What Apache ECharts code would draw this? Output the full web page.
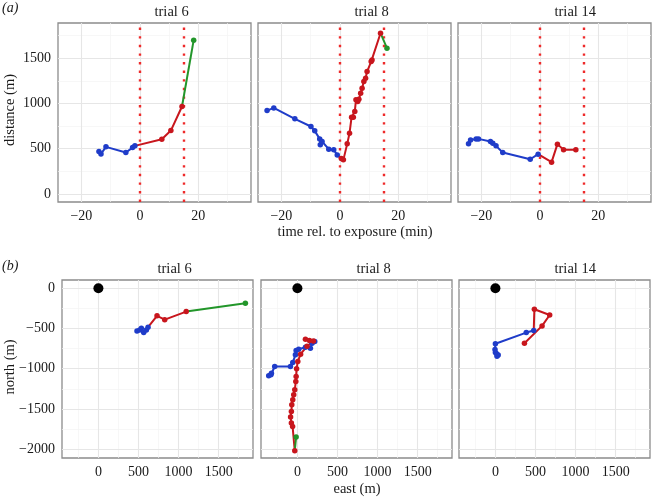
<!DOCTYPE html>
<html>
<head>
<meta charset="utf-8">
<script src="https://cdn.jsdelivr.net/npm/echarts@6/dist/echarts.min.js"></script>
<style>html,body{margin:0;padding:0;background:#fff}#c{width:652px;height:497px}</style>
</head>
<body>
<div id="c"></div>
<script>
// ---------- DATA ----------
const trials = ['trial 6', 'trial 8', 'trial 14'];
// panel (a): [time rel. to exposure (min), distance (m)]
const a6_pre  = [[-14,468],[-13.3,442],[-11.6,520],[-4.8,457],[-2.5,512],[-1.7,531]];
const a6_exp  = [[-1.7,531],[7.5,605],[10.6,700],[14.4,966]];
const a6_post = [[14.4,966],[18.4,1700]];
const a8_pre  = [[-24.9,921],[-22.6,951],[-15.4,830],[-9.9,745],[-8.6,697],[-6.9,608],[-6.7,542],[-6.1,579],[-3.8,494],[-2.1,487],[-0.9,431]];
const a8_exp  = [[-0.9,431],[0.5,390],[1.2,376],[2.5,553],[3.3,671],[4,848],[4.6,848],[5.1,910],[5.5,1040],[6.1,1021],[6.5,1047],[7.1,1114],[7.6,1169],[8.2,1242],[8.8,1279],[9.3,1353],[10.7,1463],[11,1482],[13.9,1777]];
const a8_post = [[13.9,1777],[16.1,1611]];
const a14_pre = [[-24.4,553],[-23.7,597],[-21.8,608],[-21,608],[-16.9,579],[-16.1,561],[-15,531],[-12.7,457],[-3.3,383],[-0.6,439]];
const a14_exp = [[-0.6,439],[4,351],[6,550],[8.1,487],[12.3,487]];
const a14_post = [];
const exposureBounds = [0, 15];
// panel (b): [east (m), north (m)]
const b6_pre  = [[481,-530],[515,-518],[536,-497],[565,-551],[598,-518],[619,-484]];
const b6_exp  = [[619,-484],[731,-342],[827,-390],[1095,-290]];
const b6_post = [[1095,-290],[1833,-187]];
const b8_pre  = [[-358,-1089],[-330,-1075],[-324,-1056],[-283,-973],[-87,-973],[-58,-924],[-25,-828],[-16,-775],[16,-758],[100,-733],[162,-745],[183,-683],[216,-663]];
const b8_exp  = [[216,-663],[100,-634],[150,-651],[200,-655],[120,-720],[40,-820],[5,-910],[-10,-1000],[-16,-1097],[-20,-1160],[-33,-1263],[-46,-1325],[-58,-1387],[-70,-1450],[-75,-1532],[-85,-1600],[-75,-1677],[-60,-1718],[-33,-2021]];
const b8_post = [[-33,-2021],[-16,-1851]];
const b14_pre = [[20,-845],[35,-830],[15,-815],[0,-800],[-5,-760],[0,-690],[385,-551],[478,-526]];
const b14_exp = [[478,-526],[486,-261],[677,-332],[582,-468],[362,-683]];
const b14_post = [];
const sourcePoint = [[0,0]];
// ticks
const tTicks = [-20, 0, 20], tMinor = [-10, 10, 30];
const dTicks = [0, 500, 1000, 1500], dMinor = [250, 750, 1250, 1750];
const eTicks = [0, 500, 1000, 1500], eMinor = [-250, 250, 750, 1250, 1750];
const nTicks = [-2000, -1500, -1000, -500, 0], nMinor = [-1750, -1250, -750, -250];
const tLim = [-28, 38], dLim = [-90, 1890], eLim = [-454, 1928], nLim = [-2111, 103];

// ---------- STYLE ----------
const FONT = 'Liberation Serif';
const C_PRE = '#1f3cc9', C_EXP = '#c8161d', C_POST = '#22962a', C_DOT = '#ee2a2a';
const topLefts = [58, 258, 458], botLefts = [62, 261, 459];

const grids = [], xAxes = [], yAxes = [], series = [], graphics = [];
const fmt = v => String(v).replace('-', '\u2212');

function addPanel(idx, left, top, w, h, xLim, yLim, xT, xM, yT, yM, showY) {
  grids.push({left, top, width: w, height: h, show: true, backgroundColor: '#fff', borderColor: '#8c8c8c', borderWidth: 1.3, containLabel: false});
  xAxes.push({type: 'value', gridIndex: idx, min: xLim[0], max: xLim[1],
    axisLine: {show: false}, splitLine: {show: false},
    axisTick: {show: true, length: 3, customValues: xT, lineStyle: {color: '#444', width: 1}},
    axisLabel: {show: true, customValues: xT, margin: 7, formatter: fmt, fontFamily: FONT, fontSize: 14, color: '#1a1a1a'}});
  yAxes.push({type: 'value', gridIndex: idx, min: yLim[0], max: yLim[1],
    axisLine: {show: false}, splitLine: {show: false},
    axisTick: {show: showY, length: 3, customValues: yT, lineStyle: {color: '#444', width: 1}},
    axisLabel: {show: showY, customValues: yT, margin: 7, formatter: fmt, fontFamily: FONT, fontSize: 14, color: '#1a1a1a'}});
  const ml = [];
  xM.forEach(v => ml.push({xAxis: v, lineStyle: {color: '#f3f3f3', width: 0.7}}));
  yM.forEach(v => ml.push({yAxis: v, lineStyle: {color: '#f3f3f3', width: 0.7}}));
  xT.forEach(v => ml.push({xAxis: v}));
  yT.forEach(v => ml.push({yAxis: v}));
  series.push({type: 'line', xAxisIndex: idx, yAxisIndex: idx, data: [], silent: true, z: 1,
    markLine: {silent: true, symbol: ['none', 'none'], animation: false, z: 1, label: {show: false},
      lineStyle: {color: '#e6e6e6', width: 1.1, type: 'solid'}, data: ml}});
}

function addPath(idx, data, color, skipFirst) {
  if (!data.length) return;
  series.push({type: 'line', xAxisIndex: idx, yAxisIndex: idx, z: 5, animation: false,
    data: data.map((p, i) => (skipFirst && i === 0) ? {value: p, symbol: 'none'} : {value: p}),
    symbol: 'circle', symbolSize: 5.5, showSymbol: true,
    lineStyle: {color, width: 2}, itemStyle: {color, opacity: 1}});
}

const aData = [[a6_pre, a6_exp, a6_post], [a8_pre, a8_exp, a8_post], [a14_pre, a14_exp, a14_post]];
const bData = [[b6_pre, b6_exp, b6_post], [b8_pre, b8_exp, b8_post], [b14_pre, b14_exp, b14_post]];

for (let i = 0; i < 3; i++) {
  addPanel(i, topLefts[i], 23, 193, 179, tLim, dLim, tTicks, tMinor, dTicks, dMinor, i === 0);
  series.push({type: 'line', xAxisIndex: i, yAxisIndex: i, data: [], silent: true, z: 3,
    markLine: {silent: true, symbol: ['none', 'none'], animation: false, z: 3, label: {show: false},
      lineStyle: {color: C_DOT, width: 2.4, type: [2.4, 6.2], cap: 'butt'},
      data: exposureBounds.map(v => ({xAxis: v}))}});
  addPath(i, aData[i][0], C_PRE, false);
  addPath(i, aData[i][1], C_EXP, true);
  addPath(i, aData[i][2], C_POST, true);
  graphics.push({type: 'text', left: topLefts[i] + 96.5, top: 5, style: {text: trials[i], font: '14.5px "' + FONT + '"', fill: '#1a1a1a', textAlign: 'center'}});
}
for (let i = 0; i < 3; i++) {
  const k = i + 3;
  addPanel(k, botLefts[i], 280, 191, 178, eLim, nLim, eTicks, eMinor, nTicks, nMinor, i === 0);
  addPath(k, bData[i][0], C_PRE, false);
  addPath(k, bData[i][1], C_EXP, true);
  addPath(k, bData[i][2], C_POST, true);
  series.push({type: 'scatter', xAxisIndex: k, yAxisIndex: k, data: sourcePoint, symbolSize: 10, itemStyle: {color: '#000', opacity: 1}, z: 6, animation: false});
  graphics.push({type: 'text', left: botLefts[i] + 95.5, top: 262, style: {text: trials[i], font: '14.5px "' + FONT + '"', fill: '#1a1a1a', textAlign: 'center'}});
}

graphics.push({type: 'text', left: 2, top: 1, style: {text: '(a)', font: 'italic 14px "' + FONT + '"', fill: '#1a1a1a'}});
graphics.push({type: 'text', left: 2, top: 259, style: {text: '(b)', font: 'italic 14px "' + FONT + '"', fill: '#1a1a1a'}});
graphics.push({type: 'text', x: 355, y: 232, style: {text: 'time rel. to exposure (min)', font: '14.5px "' + FONT + '"', fill: '#1a1a1a', textAlign: 'center', textVerticalAlign: 'middle'}});
graphics.push({type: 'text', x: 357, y: 489, style: {text: 'east (m)', font: '14.5px "' + FONT + '"', fill: '#1a1a1a', textAlign: 'center', textVerticalAlign: 'middle'}});
graphics.push({type: 'text', x: 10, y: 110, rotation: Math.PI / 2, style: {text: 'distance (m)', font: '14.5px "' + FONT + '"', fill: '#1a1a1a', textAlign: 'center', textVerticalAlign: 'middle'}});
graphics.push({type: 'text', x: 10, y: 367, rotation: Math.PI / 2, style: {text: 'north (m)', font: '14.5px "' + FONT + '"', fill: '#1a1a1a', textAlign: 'center', textVerticalAlign: 'middle'}});

const chart = echarts.init(document.getElementById('c'), null, {renderer: 'canvas'});
chart.setOption({backgroundColor: '#fff', animation: false, grid: grids, xAxis: xAxes, yAxis: yAxes, series, graphic: graphics});
</script>
</body>
</html>
